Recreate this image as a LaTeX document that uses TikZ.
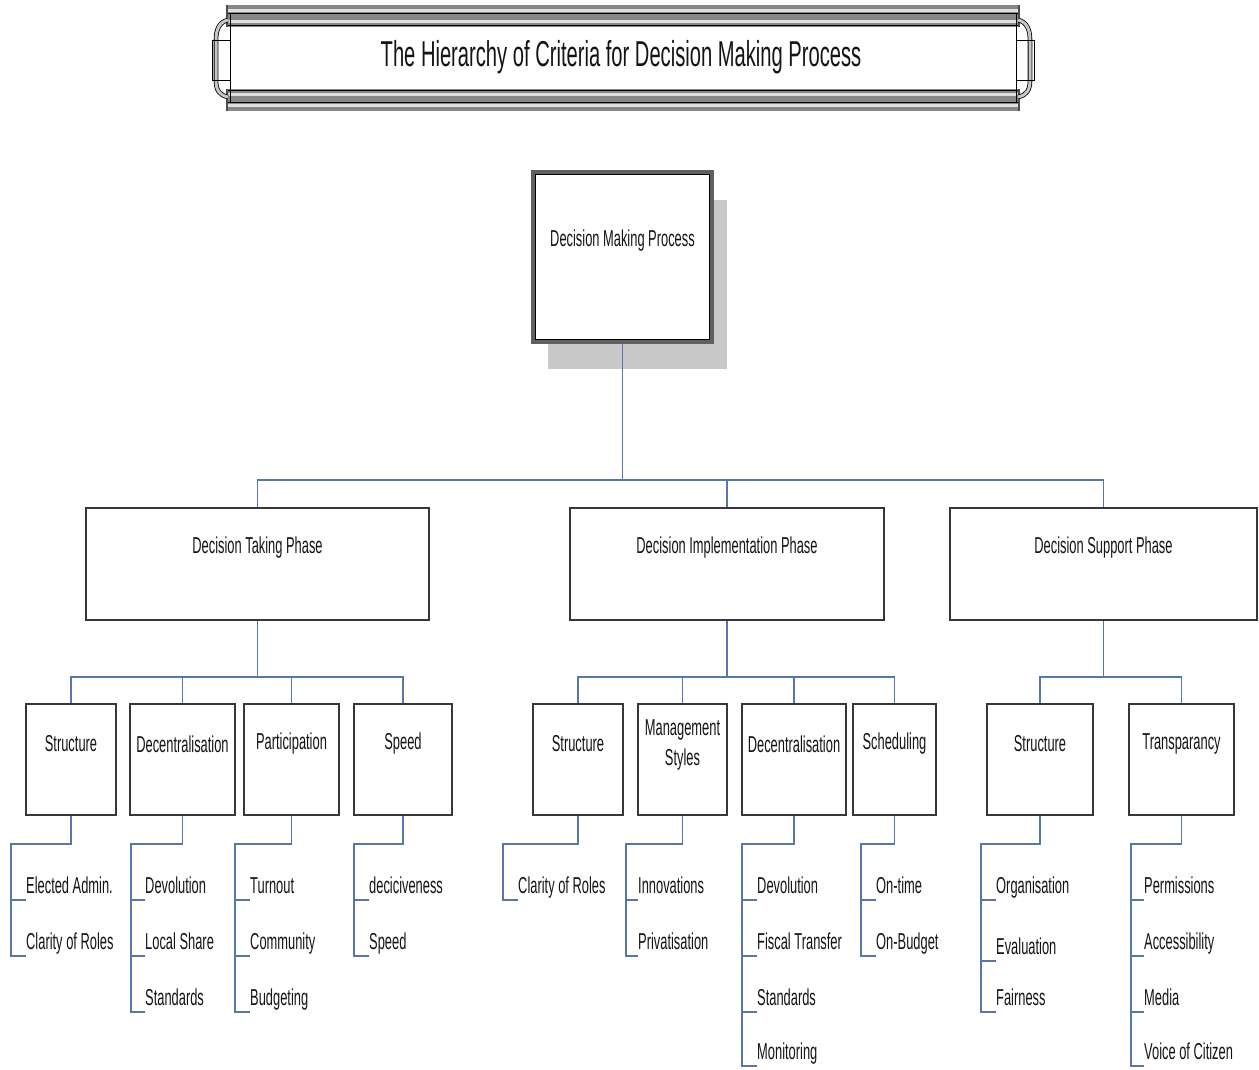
\documentclass[tikz,border=0pt]{standalone}
\usepackage{fontspec}
\setmainfont{Liberation Sans}[FakeStretch=0.56]
\usetikzlibrary{calc}
\definecolor{linkblue}{RGB}{88,118,170}
\definecolor{boxline}{RGB}{55,55,55}
\definecolor{inkgray}{RGB}{20,20,20}
\definecolor{shadowgray}{RGB}{200,200,200}
\definecolor{bandgray}{RGB}{135,135,135}
\begin{document}
\begin{tikzpicture}[x=1pt,y=1pt,
  every node/.style={font=\fontsize{23}{30}\selectfont, text=inkgray},
  box/.style={draw=boxline, line width=2pt, fill=white, inner sep=0pt},
  midbox/.style={box, minimum height=111pt},
  phasebox/.style={box, minimum height=112pt},
  lbl/.style={inner sep=0pt, align=center},
  leaf/.style={anchor=south west, inner sep=0pt, text height=17pt, text depth=6pt},
  conn/.style={draw=linkblue, line width=1.4pt},
  bandline/.style={draw=black, line width=1pt},
  tabline/.style={draw=black, line width=0.8pt, double=gray!45, double distance=3pt},
]
\useasboundingbox (0,0) rectangle (1259,-1069);

% ---- title frame ----
\fill[bandgray] (227,-5) rectangle (1019,-27);
\fill[gray!25] (227,-9) rectangle (1019,-12);
\fill[gray!25] (227,-20) rectangle (1019,-23);
\draw[bandline, line width=1.2pt] (227,-13.5) -- (1019,-13.5);
\draw[bandline] (227,-25.5) -- (1019,-25.5);
\fill[bandgray] (227,-89) rectangle (1019,-111);
\fill[gray!25] (227,-104) rectangle (1019,-107);
\fill[gray!25] (227,-93) rectangle (1019,-96);
\draw[bandline, line width=1.2pt] (227,-102.5) -- (1019,-102.5);
\draw[bandline] (227,-90.5) -- (1019,-90.5);
\draw[bandline] (230,-13.5) -- (230,-102.5);
\draw[bandline] (1016,-13.5) -- (1016,-102.5);
\draw[gray!60!black, line width=1.5pt] (227,-5) -- (227,-27) (227,-89) -- (227,-111);
\draw[gray!60!black, line width=1.5pt] (1019,-5) -- (1019,-27) (1019,-89) -- (1019,-111);
\draw[tabline] (228,-20) .. controls (219,-22) and (216,-30) .. (216,-40) -- (216,-80) .. controls (216,-90) and (219,-95) .. (228,-97);
\draw[bandline, line width=0.8pt] (230,-40) -- (212,-40) -- (212,-80) -- (230,-80);
\draw[tabline] (1018,-20) .. controls (1027,-22) and (1030,-30) .. (1030,-40) -- (1030,-80) .. controls (1030,-90) and (1027,-95) .. (1018,-97);
\draw[bandline, line width=0.8pt] (1016,-40) -- (1034,-40) -- (1034,-80) -- (1016,-80);
\node[inner sep=0pt, font=\fontsize{36}{40}\selectfont] (title) at (621,-57) {The Hierarchy of Criteria for Decision Making Process};

% ---- root ----
\fill[shadowgray] (548,-200) rectangle (727,-369);
\node[draw=gray!75!black, line width=3.5pt, fill=white, minimum width=179pt, minimum height=170pt, inner sep=0pt] (root) at (622.5,-257) {};
\draw[black, line width=1.2pt] ($(root.south west)+(4.5,4.5)$) rectangle ($(root.north east)+(-4.5,-4.5)$);
\node[lbl] (rootT) at (622.5,-241) {Decision Making Process};

% ---- phases ----
\node[phasebox, minimum width=343pt] (dtp) at (257.5,-564) {};
\node[phasebox, minimum width=314pt] (dip) at (727,-564) {};
\node[phasebox, minimum width=307pt] (dsp) at (1103.5,-564) {};
\node[lbl] (dtpT) at (257.5,-548) {Decision Taking Phase};
\node[lbl] (dipT) at (727,-548) {Decision Implementation Phase};
\node[lbl] (dspT) at (1103.5,-548) {Decision Support Phase};

\coordinate (bus0) at (622.5,-480);
\draw[conn] (root.south) -- (bus0) -| (dtp.north);
\draw[conn] (bus0) -| (dip.north);
\draw[conn] (bus0) -| (dsp.north);

% ---- criteria ----
\node[midbox, minimum width=90pt]  (s1)  at (71,-759.5) {};
\node[midbox, minimum width=105pt] (d1)  at (182.5,-759.5) {};
\node[midbox, minimum width=95pt]  (p1)  at (291.5,-759.5) {};
\node[midbox, minimum width=98pt]  (sp1) at (403,-759.5) {};
\node[midbox, minimum width=90pt]  (s2)  at (578,-759.5) {};
\node[midbox, minimum width=89pt]  (m2)  at (682.5,-759.5) {};
\node[midbox, minimum width=104pt] (d2)  at (794,-759.5) {};
\node[midbox, minimum width=83pt]  (sc2) at (894.5,-759.5) {};
\node[midbox, minimum width=106pt] (s3)  at (1040,-759.5) {};
\node[midbox, minimum width=105pt] (t3)  at (1181.5,-759.5) {};

\node[lbl] (s1T)  at (71,-744) {Structure};
\node[lbl] (d1T)  at (182.5,-744) {Decentralisation};
\node[lbl] (p1T)  at (291.5,-744) {Participation};
\node[lbl] (sp1T) at (403,-744) {Speed};
\node[lbl] (s2T)  at (578,-744) {Structure};
\node[lbl] (m2T)  at (682.5,-745) {Management\\Styles};
\node[lbl] (d2T)  at (794,-744) {Decentralisation};
\node[lbl] (sc2T) at (894.5,-744) {Scheduling};
\node[lbl] (s3T)  at (1040,-744) {Structure};
\node[lbl] (t3T)  at (1181.5,-744) {Transparancy};

\coordinate (bus1) at (257.5,-677);
\coordinate (bus2) at (727,-677);
\coordinate (bus3) at (1103.5,-677);
\draw[conn] (dtp.south) -- (bus1);
\foreach \b in {s1,d1,p1,sp1} \draw[conn] (bus1) -| (\b.north);
\draw[conn] (dip.south) -- (bus2);
\foreach \b in {s2,m2,d2,sc2} \draw[conn] (bus2) -| (\b.north);
\draw[conn] (dsp.south) -- (bus3);
\foreach \b in {s3,t3} \draw[conn] (bus3) -| (\b.north);

% ---- sub-criteria ----
\node[leaf] (s1a) at (26,-900) {Elected Admin.};
\node[leaf] (s1b) at (26,-956) {Clarity of Roles};

\node[leaf] (d1a) at (145,-900) {Devolution};
\node[leaf] (d1b) at (145,-956) {Local Share};
\node[leaf] (d1c) at (145,-1012) {Standards};

\node[leaf] (p1a) at (250,-900) {Turnout};
\node[leaf] (p1b) at (250,-956) {Community};
\node[leaf] (p1c) at (250,-1012) {Budgeting};

\node[leaf] (sp1a) at (369,-900) {deciciveness};
\node[leaf] (sp1b) at (369,-956) {Speed};

\node[leaf] (s2a) at (518,-900) {Clarity of Roles};

\node[leaf] (m2a) at (638,-900) {Innovations};
\node[leaf] (m2b) at (638,-956) {Privatisation};

\node[leaf] (d2a) at (757,-900) {Devolution};
\node[leaf] (d2b) at (757,-956) {Fiscal Transfer};
\node[leaf] (d2c) at (757,-1012) {Standards};
\node[leaf] (d2d) at (757,-1066) {Monitoring};

\node[leaf] (sc2a) at (876,-900) {On-time};
\node[leaf] (sc2b) at (876,-956) {On-Budget};

\node[leaf] (s3a) at (996,-900) {Organisation};
\node[leaf] (s3b) at (996,-961) {Evaluation};
\node[leaf] (s3c) at (996,-1012) {Fairness};

\node[leaf] (t3a) at (1144,-900) {Permissions};
\node[leaf] (t3b) at (1144,-956) {Accessibility};
\node[leaf] (t3c) at (1144,-1012) {Media};
\node[leaf] (t3d) at (1144,-1066) {Voice of Citizen};

\coordinate (k1) at (11,-844);
\coordinate (k2) at (131,-844);
\coordinate (k3) at (235,-844);
\coordinate (k4) at (354,-844);
\coordinate (k5) at (503,-844);
\coordinate (k6) at (626,-844);
\coordinate (k7) at (742,-844);
\coordinate (k8) at (861,-844);
\coordinate (k9) at (981,-844);
\coordinate (k10) at (1131,-844);

\foreach \l in {s1a,s1b} \draw[conn] (s1.south) |- (k1) |- (\l.south west);
\foreach \l in {d1a,d1b,d1c} \draw[conn] (d1.south) |- (k2) |- (\l.south west);
\foreach \l in {p1a,p1b,p1c} \draw[conn] (p1.south) |- (k3) |- (\l.south west);
\foreach \l in {sp1a,sp1b} \draw[conn] (sp1.south) |- (k4) |- (\l.south west);
\foreach \l in {s2a} \draw[conn] (s2.south) |- (k5) |- (\l.south west);
\foreach \l in {m2a,m2b} \draw[conn] (m2.south) |- (k6) |- (\l.south west);
\foreach \l in {d2a,d2b,d2c,d2d} \draw[conn] (d2.south) |- (k7) |- (\l.south west);
\foreach \l in {sc2a,sc2b} \draw[conn] (sc2.south) |- (k8) |- (\l.south west);
\foreach \l in {s3a,s3b,s3c} \draw[conn] (s3.south) |- (k9) |- (\l.south west);
\foreach \l in {t3a,t3b,t3c,t3d} \draw[conn] (t3.south) |- (k10) |- (\l.south west);
\end{tikzpicture}
\end{document}
